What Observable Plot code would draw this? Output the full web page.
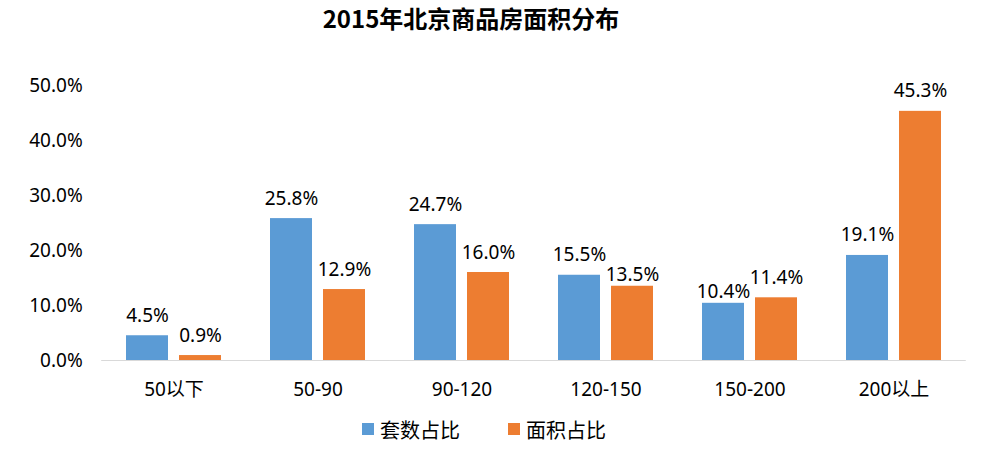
<!DOCTYPE html>
<html>
<head>
<meta charset="utf-8">
<script src="https://cdn.jsdelivr.net/npm/d3@7"></script>
<script src="https://cdn.jsdelivr.net/npm/@observablehq/plot@0.6"></script>
<style>
  html, body { margin: 0; padding: 0; background: #fff; }
  body { width: 986px; height: 452px; overflow: hidden; font-family: "Noto Sans", "Noto Sans CJK SC", sans-serif; color: #000; }
  #title { height: 36px; line-height: 36px; text-align: center; padding-right: 44px; font-family: "Noto Sans CJK SC", sans-serif; font-weight: bold; font-size: 24px; color: #000; }
  #legend { display: flex; justify-content: center; align-items: center; padding-right: 18px; height: 46px; font-family: "Noto Sans CJK SC", sans-serif; font-size: 20px; color: #000; }
  .item { display: flex; align-items: center; margin: 0 24px; }
  .sw { width: 12px; height: 12px; margin-right: 6px; }
  #chart svg { display: block; }
</style>
</head>
<body>
<div id="title">2015年北京商品房面积分布</div>
<div id="chart"></div>
<div id="legend"></div>
<script>
const categories = ["50以下", "50-90", "90-120", "120-150", "150-200", "200以上"];
const seriesNames = ["套数占比", "面积占比"];
const countShare = [4.5, 25.8, 24.7, 15.5, 10.4, 19.1];
const areaShare = [0.9, 12.9, 16.0, 13.5, 11.4, 45.3];
const yTicks = [0, 10, 20, 30, 40, 50];
const colors = ["#5B9BD5", "#ED7D31"];
// labels that sit closer to their bar in the reference (to avoid neighbours)
const closeLabels = ["120-150|面积占比", "150-200|套数占比"];

const data = [];
categories.forEach((c, i) => {
  data.push({cat: c, series: seriesNames[0], value: countShare[i]});
  data.push({cat: c, series: seriesNames[1], value: areaShare[i]});
});
const isClose = d => closeLabels.includes(d.cat + "|" + d.series);

const W = 986, H = 370, mL = 100, mR = 19, mT = 49, mB = 46;
const pInner = 0.343, pOuter = pInner / 2;
const step = (W - mL - mR) / categories.length;
const halfGap = step * pOuter;

const fmt = d => d.value.toFixed(1) + "%";

const chart = Plot.plot({
  width: W,
  height: H,
  marginTop: mT,
  marginBottom: mB,
  marginLeft: mL,
  marginRight: mR,
  style: {fontFamily: '"Noto Sans", "Noto Sans CJK SC", sans-serif', fontSize: "19px", color: "#000", background: "#fff"},
  fx: {domain: categories, paddingInner: pInner, paddingOuter: pOuter, label: null, axis: "bottom", tickSize: 0, tickPadding: 22},
  x: {domain: seriesNames, paddingInner: 0.21, paddingOuter: 0, axis: null},
  y: {domain: [0, 50], ticks: yTicks, tickFormat: d => d.toFixed(1) + "%", tickSize: 0, tickPadding: 19 + halfGap, label: null},
  color: {domain: seriesNames, range: colors},
  marks: [
    Plot.barY(data, {fx: "cat", x: "series", y: "value", fill: "series"}),
    Plot.ruleY([0], {stroke: "#D9D9D9", strokeWidth: 1, insetLeft: -halfGap, insetRight: -halfGap}),
    Plot.text(data.filter(d => !isClose(d)), {fx: "cat", x: "series", y: "value", text: fmt, lineAnchor: "bottom", dy: -14, fontSize: 19, fill: "#000"}),
    Plot.text(data.filter(isClose), {fx: "cat", x: "series", y: "value", text: fmt, lineAnchor: "bottom", dy: -5, fontSize: 19, fill: "#000"})
  ]
});
document.getElementById("chart").appendChild(chart);

const legend = document.getElementById("legend");
seriesNames.forEach((s, i) => {
  const it = document.createElement("div");
  it.className = "item";
  const sw = document.createElement("div");
  sw.className = "sw";
  sw.style.background = colors[i];
  const t = document.createElement("span");
  t.textContent = s;
  it.appendChild(sw);
  it.appendChild(t);
  legend.appendChild(it);
});
</script>
</body>
</html>
